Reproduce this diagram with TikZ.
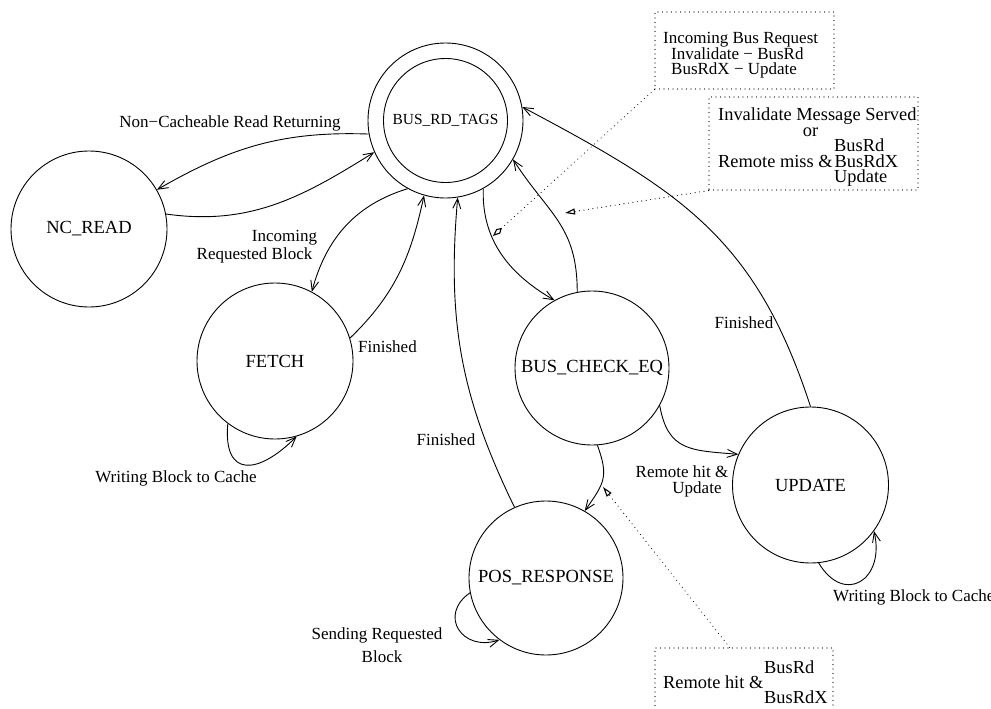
\documentclass[tikz,border=0pt]{standalone}
\usepackage{fontspec}
\setmainfont{Liberation Serif}
\usetikzlibrary{arrows.meta,calc}
\newcommand\fsLabel{\fontsize{17pt}{17pt}\selectfont}
\newcommand\fsState{\fontsize{18.5pt}{18.5pt}\selectfont}
\newcommand\fsTags{\fontsize{15.4pt}{15.4pt}\selectfont}
\newcommand\fsBox{\fontsize{18.4pt}{18.4pt}\selectfont}
\tikzset{
  state/.style={circle, draw, line width=0.9pt, inner sep=0pt, minimum size=156pt, font=\fsState},
  trans/.style={line width=0.9pt, -{Straight Barb[length=10pt,width=8pt]}},
  lbl/.style={inner sep=0pt, font=\fsLabel},
  note/.style={draw, line width=1.1pt, dash pattern=on 0pt off 4.5pt, line cap=round, inner sep=0pt},
  leader/.style={line width=1.1pt, dash pattern=on 0pt off 4.5pt, line cap=round},
  smalltext/.style={inner sep=0pt, anchor=west, font=\fsLabel, text height=10.2pt, text depth=2.6pt},
  bigtext/.style={inner sep=0pt, anchor=west, font=\fsBox, text height=11pt, text depth=2.8pt},
}
\begin{document}
\begin{tikzpicture}[x=1pt, y=-1pt]
\useasboundingbox (0,0) rectangle (991,709);
\clip (0,0) rectangle (991,709);

% states
\node[state, minimum size=155pt] (tags) at (445.5,120.5) {};
\node[state, minimum size=124pt, font=\fsTags] (tagsin) at (445.5,120.5) {BUS\_RD\_TAGS};
\node[state] (ncread) at (89,229) {NC\_READ};
\node[state] (fetch) at (275,361) {FETCH};
\node[state, minimum size=154pt] (check) at (592,368) {BUS\_CHECK\_EQ};
\node[state] (update) at (810.5,485) {UPDATE};
\node[state, minimum size=154pt] (pos) at (546,578) {POS\_RESPONSE};

% transitions
\draw[trans] (tags.190) to[out=178, in=30] (ncread.30);
\draw[trans] (ncread.11) to[out=-8, in=212] (tags.204);
\draw[trans] (tags.241) to[out=197, in=75] (fetch.62);
\draw[trans] (fetch.17) to[out=44, in=258] (tags.254);
\draw[trans] (pos.114) to[out=116, in=265] (tags.279);
\draw[trans] (tags.299) to[out=268, in=150] (check.119);
\draw[trans] (check.101) to[out=90, in=303, looseness=1.15] (tags.330);
\draw[trans] (update.90) to[out=108, in=332, looseness=1.1] (tags.10);
\draw[trans] (check.331) to[out=280, in=175, looseness=1.3] (update.157);
\draw[trans] (check.274) to[out=290, in=55, looseness=1.3] (pos.60);
\draw[trans] (fetch.233) to[out=265, in=225, looseness=2] (fetch.286);
\draw[trans] (pos.191) to[out=215, in=198, looseness=1.8] (pos.233);
\draw[trans] (update.276) to[out=301, in=283, looseness=2] (update.324);

% transition labels
\node[lbl] (lNC) at (230,123) {Non−Cacheable Read Returning};
\node[lbl] (lInc1) at (284.5,238) {Incoming};
\node[lbl] (lInc2) at (254.5,255) {Requested Block};
\node[lbl, anchor=west] (lFinF) at (358,347) {Finished};
\node[lbl] (lWrF) at (176,478) {Writing Block to Cache};
\node[lbl] (lFinP) at (446,440) {Finished};
\node[lbl] (lSend1) at (377,635) {Sending Requested};
\node[lbl] (lSend2) at (382,657) {Block};
\node[lbl] (lHit1) at (682,472) {Remote hit \&};
\node[lbl] (lHit2) at (697,489) {Update};
\node[lbl] (lFinU) at (744,323) {Finished};
\node[lbl, anchor=west] (lWrU) at (833,597) {Writing Block to Cache};

% comment boxes
\node[note, minimum width=179pt, minimum height=77pt] (boxA) at (744.5,50.5) {};
\node[smalltext] (boxA1) at (663,40) {Incoming Bus Request};
\node[smalltext] (boxA2) at (671,55.5) {Invalidate − BusRd};
\node[smalltext] (boxA3) at (671,71) {BusRdX − Update};

\node[note, minimum width=209pt, minimum height=93pt] (boxB) at (813.5,143.5) {};
\node[bigtext] (boxB1) at (718,116) {Invalidate Message Served};
\node[bigtext, anchor=center] (boxB2) at (810.5,132) {or};
\node[bigtext] (boxB3) at (834,147) {BusRd};
\node[bigtext] (boxB4) at (718,163) {Remote miss \&};
\node[bigtext] (boxB5) at (834.5,163) {BusRdX};
\node[bigtext] (boxB6) at (834,178) {Update};

\node[note, minimum width=178pt, minimum height=68pt] (boxC) at (744,682) {};
\node[bigtext] (boxC1) at (764,669) {BusRd};
\node[bigtext] (boxC2) at (663,684) {Remote hit \&};
\node[bigtext] (boxC3) at (764,699) {BusRdX};

% leaders from the comment boxes
\coordinate (tipA) at (493,236);
\coordinate (tipB) at (565,213);
\coordinate (tipC) at (603,487);
\coordinate (startC) at ($(boxC.north west)!0.42!(boxC.north east)$);
\draw[leader, -{Kite[open, length=12pt, width=6pt, inset=5pt]}] (boxA.south west) -- (tipA);
\draw[leader, -{Triangle[open, length=10pt, width=6pt]}] (boxB.south west) -- (tipB);
\draw[leader, -{Triangle[open, length=10pt, width=6pt]}] (startC) -- (tipC);
\end{tikzpicture}
\end{document}
